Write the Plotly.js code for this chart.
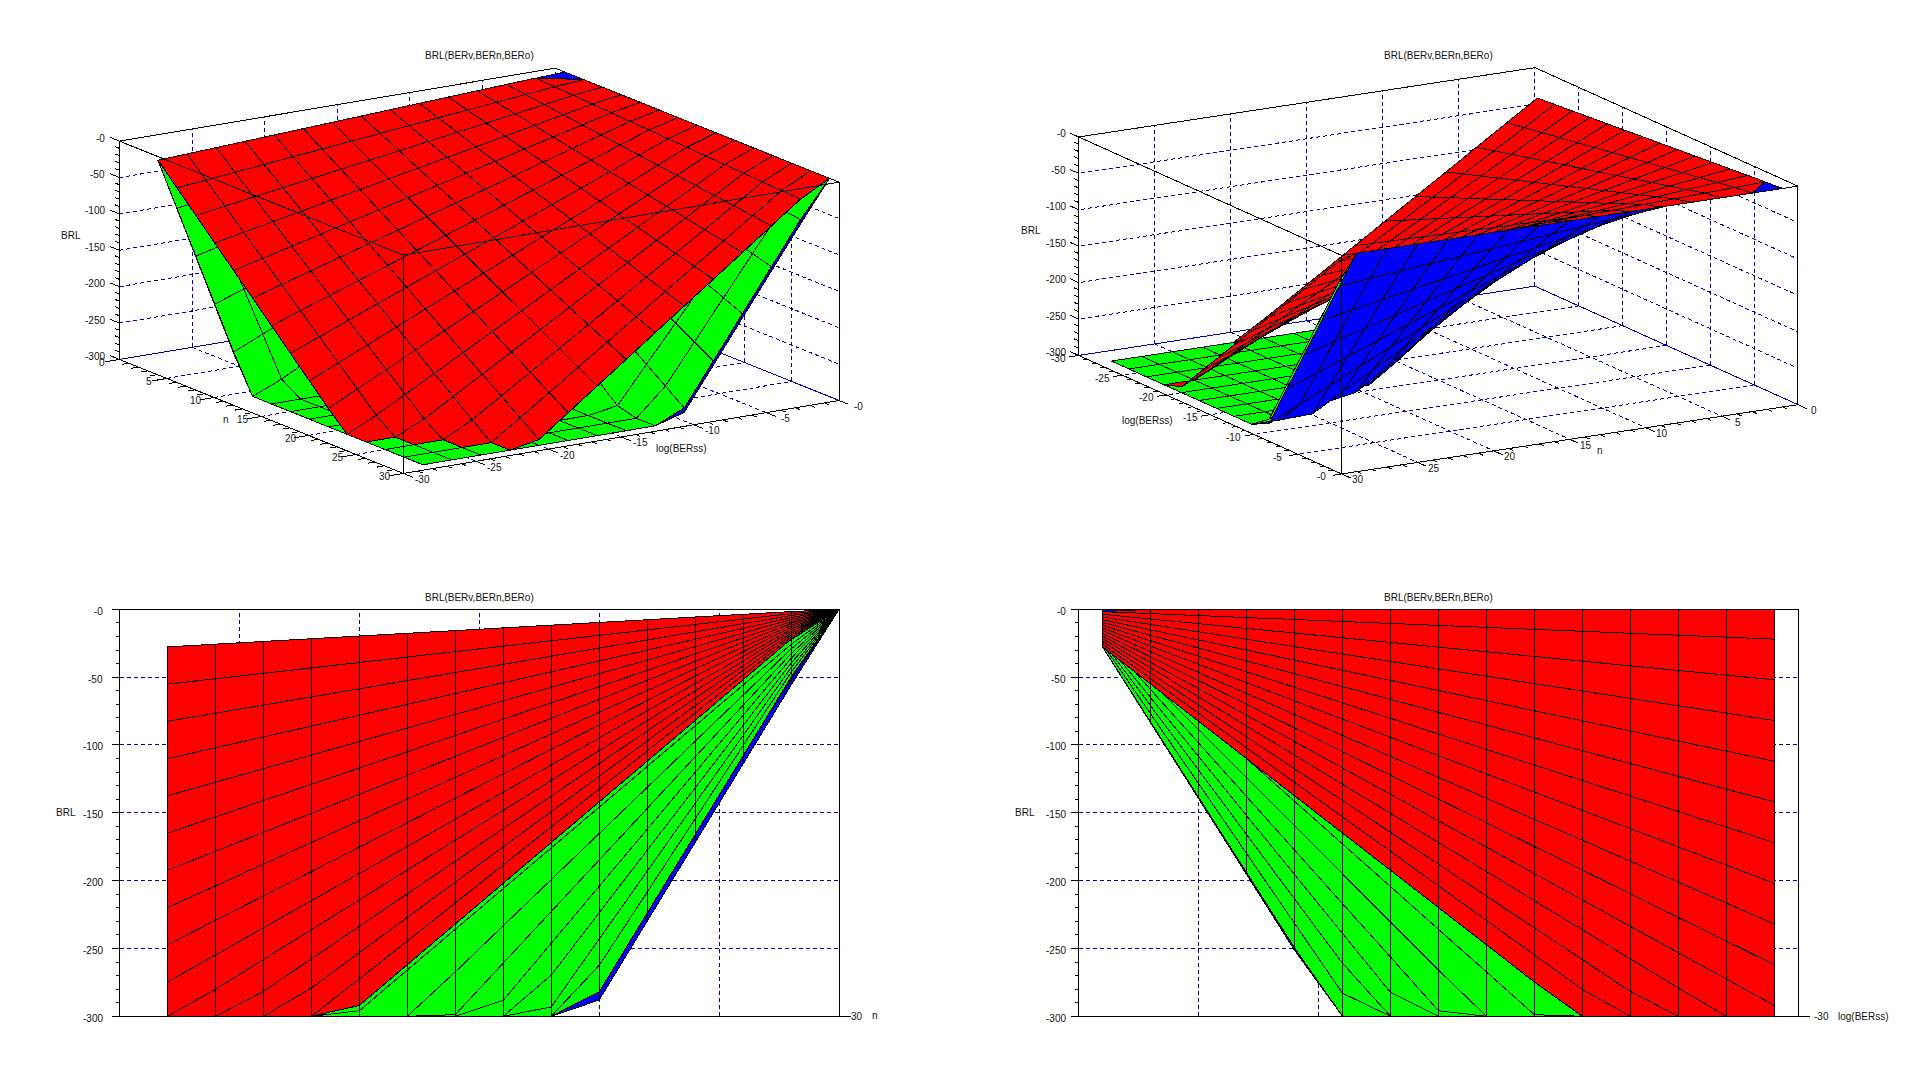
<!DOCTYPE html>
<html><head><meta charset="utf-8">
<script src="https://cdn.plot.ly/plotly-3.0.1.min.js"></script>
<style>html,body{margin:0;padding:0;background:#fff;overflow:hidden}#plot{width:1918px;height:1084px}
.scatterlayer path{shape-rendering:crispEdges}</style>
</head><body><div id="plot"></div>
<script>
const nValues=[1,3,5,7,9,11,13,15,17,19,21,23,25,27,29];
const logValues=[0,-2,-4,-6,-8,-10,-12,-14,-16,-18,-20,-22,-24,-26,-28];
const nTicks=[0,5,10,15,20,25,30];
const logTicks=[0,-5,-10,-15,-20,-25,-30];
const brlTicks=[0,-50,-100,-150,-200,-250,-300];
const brlMinor=[-10,-20,-30,-40,-60,-70,-80,-90,-110,-120,-130,-140,-160,-170,-180,-190,-210,-220,-230,-240,-260,-270,-280,-290];
const chartTitle='BRL(BERv,BERn,BERo)';
const redBRL=[
[null,0,0,0,0,0,0,0,0,0,0,0,0,0,0],
[-1.7,-3.2,-4.6,-6.1,-7.5,-9,-10.4,-11.9,-13.3,-14.8,-16.2,-17.7,-19.1,-20.5,-22],
[-3.7,-7.2,-10.6,-14.1,-17.5,-21,-24.4,-27.9,-31.3,-34.8,-38.2,-41.7,-45.1,-48.5,-52],
[-5.7,-11.2,-16.6,-22.1,-27.5,-33,-38.4,-43.9,-49.3,-54.8,-60.2,-65.7,-71.1,-76.5,-82],
[-7.7,-15.2,-22.6,-30.1,-37.5,-45,-52.4,-59.9,-67.3,-74.8,-82.2,-89.7,-97.1,-104.5,-112],
[-9.7,-19.2,-28.6,-38.1,-47.5,-57,-66.4,-75.9,-85.3,-94.8,-104.2,-113.7,-123.1,-132.5,-142],
[-11.7,-23.2,-34.6,-46.1,-57.5,-69,-80.4,-91.9,-103.3,-114.8,-126.2,-137.7,-149.1,-160.5,-172],
[-13.7,-27.2,-40.6,-54.1,-67.5,-81,-94.4,-107.9,-121.3,-134.8,-148.2,-161.7,-175.1,-188.5,-202],
[-15.7,-31.2,-46.6,-62.1,-77.5,-93,-108.4,-123.9,-139.3,-154.8,-170.2,-185.7,-201.1,-216.5,-232],
[-17.7,-35.2,-52.6,-70.1,-87.5,-105,-122.4,-139.9,-157.3,-174.8,-192.2,-209.7,-227.1,-244.5,-262],
[-19.7,-39.2,-58.6,-78.1,-97.5,-117,-136.4,-155.9,-175.3,-194.8,-214.2,-233.7,-253.1,-272.5,-292],
[-21.7,-43.2,-64.6,-86.1,-107.5,-129,-150.4,-171.9,-193.3,-214.8,-236.2,-257.7,-279.1,-300,-300],
[-23.7,-47.2,-70.6,-94.1,-117.5,-141,-164.4,-187.9,-211.3,-234.8,-258.2,-281.7,-300,-300,-300],
[-25.7,-51.2,-76.6,-102.1,-127.5,-153,-178.4,-203.9,-229.3,-254.8,-280.2,-300,-300,-300,-300],
[-27.7,-55.2,-82.6,-110.1,-137.5,-165,-192.4,-219.9,-247.3,-274.8,-300,-300,-300,-300,-300]];
const greenBRL=[
[null,0,0,0,0,0,0,0,0,0,0,0,0,0,0],
[-1.85,-5.2,-8.6,-12.1,-15.5,-19,-22.4,-25.9,-29.3,-32.8,-36.2,-39.7,-43.1,-46.5,-50],
[-3.85,-11.2,-18.6,-26.1,-33.5,-41,-48.4,-55.9,-63.3,-70.8,-78.2,-85.7,-93.1,-100.5,-108],
[-5.85,-17.2,-28.6,-40.1,-51.5,-63,-74.4,-85.9,-97.3,-108.8,-120.2,-131.7,-143.1,-154.5,-166],
[-7.85,-23.2,-38.6,-54.1,-69.5,-85,-100.4,-115.9,-131.3,-146.8,-162.2,-177.7,-193.1,-208.5,-224],
[-9.85,-29.2,-48.6,-68.1,-87.5,-107,-126.4,-145.9,-165.3,-184.8,-204.2,-223.7,-243.1,-262.5,-282],
[-11.85,-35.2,-58.6,-82.1,-105.5,-129,-152.4,-175.9,-199.3,-222.8,-246.2,-269.7,-293.1,-300,-300],
[-13.85,-41.2,-68.6,-96.1,-123.5,-151,-178.4,-205.9,-233.3,-260.8,-288.2,-300,-300,-300,-300],
[-15.85,-47.2,-78.6,-110.1,-141.5,-173,-204.4,-235.9,-267.3,-298.8,-300,-300,-300,-300,-300],
[-17.85,-53.2,-88.6,-124.1,-159.5,-195,-230.4,-265.9,-300,-300,-300,-300,-300,-300,-300],
[-19.85,-59.2,-98.6,-138.1,-177.5,-217,-256.4,-295.9,-300,-300,-300,-300,-300,-300,-300],
[-21.85,-65.2,-108.6,-152.1,-195.5,-239,-282.4,-300,-300,-300,-300,-300,-300,-300,-300],
[-23.85,-71.2,-118.6,-166.1,-213.5,-261,-300,-300,-300,-300,-300,-300,-300,-300,-300],
[-25.85,-77.2,-128.6,-180.1,-231.5,-283,-300,-300,-300,-300,-300,-300,-300,-300,-300],
[-27.85,-83.2,-138.6,-194.1,-249.5,-300,-300,-300,-300,-300,-300,-300,-300,-300,-300]];
const blueBRL=[
[0,0,0,0,0,0,0,0,0,0,0,0,0,0,0],
[-2,-5.8,-9.65,-13.5,-17.4,-21.2,-25.1,-29,-32.8,-36.7,-40.5,-44.4,-48.25,-52.1,-56],
[-4,-11.8,-19.65,-27.5,-35.4,-43.2,-51.1,-59,-66.8,-74.7,-82.5,-90.4,-98.25,-106.1,-114],
[-6,-17.8,-29.65,-41.5,-53.4,-65.2,-77.1,-89,-100.8,-112.7,-124.5,-136.4,-148.25,-160.1,-172],
[-8,-23.8,-39.65,-55.5,-71.4,-87.2,-103.1,-119,-134.8,-150.7,-166.5,-182.4,-198.25,-214.1,-230],
[-10,-29.8,-49.65,-69.5,-89.4,-109.2,-129.1,-149,-168.8,-188.7,-208.5,-228.4,-248.25,-268.1,-288],
[-12,-35.8,-59.65,-83.5,-107.4,-131.2,-155.1,-179,-202.8,-226.7,-250.5,-274.4,-298.25,-300,-300],
[-14,-41.8,-69.65,-97.5,-125.4,-153.2,-181.1,-209,-236.8,-264.7,-292.5,-300,-300,-300,-300],
[-16,-47.8,-79.65,-111.5,-143.4,-175.2,-207.1,-239,-270.8,-300,-300,-300,-300,-300,-300],
[-18,-53.8,-89.65,-125.5,-161.4,-197.2,-233.1,-269,-300,-300,-300,-300,-300,-300,-300],
[-20,-59.8,-99.65,-139.5,-179.4,-219.2,-259.1,-299,-300,-300,-300,-300,-300,-300,-300],
[-22,-65.8,-109.65,-153.5,-197.4,-241.2,-285.1,-300,-300,-300,-300,-300,-300,-300,-300],
[-24,-71.8,-119.65,-167.5,-215.4,-263.2,-300,-300,-300,-300,-300,-300,-300,-300,-300],
[-26,-77.8,-129.65,-181.5,-233.4,-285.2,-300,-300,-300,-300,-300,-300,-300,-300,-300],
[-28,-83.8,-139.65,-195.5,-251.4,-300,-300,-300,-300,-300,-300,-300,-300,-300,-300]];

const W=1918,H=1084;
const FONT={family:'"Liberation Sans",Arial,sans-serif',size:10,color:'#111'};
const GRID='#0000a8';
const SHEETS=[{c:'#0000ff',z:blueBRL,floor:false},{c:'#00ff00',z:greenBRL,floor:true},{c:'#ff0000',z:redBRL,floor:false,lift:true}];
const panels=[
 {k:'',dom:[0,959,0,542],cx:479.25,cy:270.8,r1:[283.8,435.7,0],r2:[-114,73,218.3],eye:[.8113,-.524,.2595],aspect:[1,.992,.432],order:'sheets',
  nf:30,lf:-30,nb:0,lb:0,wallN:0,wallL:0,floor:true,
  zAt:[0,-30],zDir:[-1,0],nAt:-30,nDir:-1,lAt:30,lDir:1,
  zS:[-13,-3],nS:[-18,3],lS:[19,6],
  extra:[{t:'BRL',p:[0,-30,-150],s:[-48.5,-15]},{t:'n',p:[15,-30,-300],s:[-35,3]},{t:'log(BERss)',p:[30,-15,-300],s:[60,12]}]},
 {k:'2',dom:[959,1918,0,542],cx:1438.3,cy:270.8,r1:[-456.3,263,0],r2:[-69.3,-118.5,218.5],eye:[.4846,.8345,.2615],aspect:[1,.993,.429],order:'prisms',skipLow:true,
  nf:30,lf:0,nb:0,lb:-30,wallN:0,wallL:-30,floor:true,
  zAt:[30,-30],zDir:[0,-1],nAt:0,nDir:1,lAt:30,lDir:.6,
  zS:[-11,-3],nS:[16,6],lS:[-20,3],
  extra:[{t:'BRL',p:[30,-30,-150],s:[-48,-16]},{t:'log(BERss)',p:[30,-15,-300],s:[-63,6]},{t:'n',p:[15,0,-300],s:[30,11]}]},
 {k:'3',dom:[0,959,542,1084],cx:479.25,cy:812.8,r1:[0,719.5,0],r2:[0,0,407],order:'sheets',
  nf:30,lf:-30,nb:0,lb:0,wallN:0,wallL:null,floor:false,
  zAt:[30,-30],zDir:[0,-.33],zS:[-15,2],endTick:[0,.5],
  extra:[{t:'BRL',p:[30,-30,-150],s:[-54,0]},{t:'30',p:[30,0,-300],s:[18,0]},{t:'n',p:[30,0,-300],s:[36,-1]}]},
 {k:'4',dom:[959,1918,542,1084],cx:1438.5,cy:812.8,r1:[719.5,0,0],r2:[0,0,407],order:'sheets',
  nf:0,lf:-30,nb:30,lb:0,wallN:null,wallL:0,floor:false,
  zAt:[0,-30],zDir:[-.33,0],zS:[-11,2],endTick:[.5,0],
  extra:[{t:'BRL',p:[0,-30,-150],s:[-54,0]},{t:'-30',p:[30,-30,-300],s:[23,0]},{t:'log(BERss)',p:[30,-30,-300],s:[65,0]}]}
];

const traces=[];
const layout={width:W,height:H,margin:{l:0,r:0,t:0,b:0},paper_bgcolor:'#fff',plot_bgcolor:'#fff',showlegend:false,hovermode:false,dragmode:false,annotations:[]};

panels.forEach(p=>{
 const xa='x'+p.k,ya='y'+p.k;
 const proj=(n,l,z)=>{
  const a=(n-15)/30,b=(l+15)/30,c=(z+150)/300;
  return [p.cx+a*p.r1[0]+b*p.r1[1]+c*p.r1[2], p.cy-(a*p.r2[0]+b*p.r2[1]+c*p.r2[2])];
 };
 const lineTrace=(segs,color,dash)=>{
  const x=[],y=[];
  segs.forEach(s=>{const a=proj(...s[0]),b=proj(...s[1]);x.push(a[0],b[0],null);y.push(a[1],b[1],null);});
  traces.push({type:'scatter',mode:'lines',x,y,xaxis:xa,yaxis:ya,hoverinfo:'skip',line:{color,width:1,dash:dash||'solid',simplify:false},connectgaps:false});
 };
 const T=0,B=-300;
 const grid=[];
 if(p.wallN!==null){
  brlTicks.forEach(z=>grid.push([[p.wallN,-30,z],[p.wallN,0,z]]));
  logTicks.forEach(l=>grid.push([[p.wallN,l,B],[p.wallN,l,T]]));
 }
 if(p.wallL!==null){
  brlTicks.forEach(z=>grid.push([[0,p.wallL,z],[30,p.wallL,z]]));
  nTicks.forEach(n=>grid.push([[n,p.wallL,B],[n,p.wallL,T]]));
 }
 if(p.floor){
  nTicks.forEach(n=>grid.push([[n,-30,B],[n,0,B]]));
  logTicks.forEach(l=>grid.push([[0,l,B],[30,l,B]]));
 }
 lineTrace(grid,GRID,'4px,3px');
 lineTrace([[[p.nb,p.lf,B],[p.nb,p.lb,B]],[[p.nb,p.lb,B],[p.nf,p.lb,B]]],GRID);
 lineTrace([[[p.nb,p.lf,T],[p.nb,p.lb,T]],[[p.nb,p.lb,T],[p.nf,p.lb,T]]],'#000');

 const quad=(sh,i,j)=>{
  const z=sh.z;
  return [[nValues[i],logValues[j],z[j][i]],[nValues[i+1],logValues[j],z[j][i+1]],[nValues[i+1],logValues[j+1],z[j+1][i+1]],[nValues[i],logValues[j+1],z[j+1][i]]];
 };
 const hidden=(sh,q)=>{
  const low=q.filter(v=>v[2]!==null&&v[2]<=-300).length;
  if(low===4&&!sh.floor) return true;
  return !!(p.skipLow&&sh.lift&&low>=3);
 };
 const drawRun=(polys,color)=>{
  if(!polys.length) return;
  const x=[],y=[];
  polys.forEach(q=>{const pts=q.filter(v=>v[2]!==null).map(v=>proj(...v));pts.concat([pts[0]]).forEach(a=>{x.push(a[0]);y.push(a[1]);});x.push(null);y.push(null);});
  traces.push({type:'scatter',mode:'lines',fill:'toself',fillcolor:color,x,y,xaxis:xa,yaxis:ya,hoverinfo:'skip',line:{color:'#000',width:1,simplify:false},connectgaps:false});
 };
 if(p.order==='sheets'){
  SHEETS.forEach(sh=>{
   const polys=[];
   for(let j=0;j<logValues.length-1;j++)for(let i=0;i<nValues.length-1;i++){
    const q=quad(sh,i,j);
    if(hidden(sh,q))continue;
    polys.push(q);
   }
   drawRun(polys,sh.c);
  });
 } else {
  const d=p.eye,asp=p.aspect;
  const facing=q=>{
   const zv=q.map(v=>v[2]===null?0:v[2]);
   const dzdn=((zv[1]-zv[0])+(zv[2]-zv[3]))/2/300*asp[2]/(2/30*asp[0]);
   const dzdl=((zv[3]-zv[0])+(zv[2]-zv[1]))/2/300*asp[2]/(-2/30*asp[1]);
   return d[2]-dzdn*d[0]-dzdl*d[1];
  };
  let run=[],runColor=null;
  const jOrder=logValues.map((_,j)=>j).slice(0,-1).reverse();
  for(const j of jOrder){
   for(let i=0;i<nValues.length-1;i++){
    const up=[],down=[];
    SHEETS.forEach(sh=>{
     const q=quad(sh,i,j);
     if(hidden(sh,q))return;
     (facing(q)>0?up:down).push({q,c:sh.c});
    });
    down.reverse();
    down.concat(up).forEach(e=>{
     if(e.c!==runColor){drawRun(run,runColor);run=[];runColor=e.c;}
     run.push(e.q);
    });
   }
  }
  drawRun(run,runColor);
 }
 const k=[];
 [[[p.nf,p.lf],[p.nf,p.lb]],[[p.nf,p.lf],[p.nb,p.lf]]].forEach(e=>k.push([[e[0][0],e[0][1],T],[e[1][0],e[1][1],T]]));
 [[p.nb,p.lf],[p.nf,p.lf],[p.nf,p.lb]].forEach(q=>k.push([[q[0],q[1],B],[q[0],q[1],T]]));
 k.push([[p.nb,p.lf,B],[p.nf,p.lf,B]]);k.push([[p.nf,p.lf,B],[p.nf,p.lb,B]]);
 brlTicks.forEach(z=>k.push([[p.zAt[0],p.zAt[1],z],[p.zAt[0]+p.zDir[0],p.zAt[1]+p.zDir[1],z]]));
 brlMinor.forEach(z=>k.push([[p.zAt[0],p.zAt[1],z],[p.zAt[0]+p.zDir[0]/2,p.zAt[1]+p.zDir[1]/2,z]]));
 if(p.endTick){
  const e=(p.k==='3')?[30,0]:[30,-30];
  k.push([[e[0],e[1],B],[e[0]+p.endTick[0],e[1]+p.endTick[1],B]]);
 }
 if(p.nS){
  for(let n=0;n<=30;n++){const len=n%5===0?1:.5;k.push([[n,p.nAt,B],[n,p.nAt+p.nDir*len,B]]);}
  for(let l=0;l>=-30;l--){const len=l%5===0?1:.5;k.push([[p.lAt,l,B],[p.lAt+p.lDir*len,l,B]]);}
 }
 lineTrace(k,'#000');
 const mk=(pt,text,s,anchor)=>{
  const a=proj(...pt);
  layout.annotations.push({xref:xa,yref:ya,x:a[0]+s[0],y:a[1]+s[1],text,showarrow:false,xanchor:anchor||'center',yanchor:'middle',font:FONT});
 };
 brlTicks.forEach(z=>mk([p.zAt[0],p.zAt[1],z],'-'+Math.abs(z),p.zS,'right'));
 if(p.nS){
  nTicks.forEach(n=>mk([n,p.nAt,B],String(n),p.nS));
  logTicks.forEach(l=>mk([p.lAt,l,B],'-'+Math.abs(l),p.lS));
 }
 p.extra.forEach(e=>mk(e.p,e.t,e.s));
 const titleY=p.cy<500?55.5:597.5;
 layout.annotations.push({xref:xa,yref:ya,x:p.cx,y:titleY,text:chartTitle,showarrow:false,xanchor:'center',yanchor:'middle',font:FONT});
 const d=p.dom;
 layout['xaxis'+p.k]={domain:[d[0]/W,d[1]/W],range:[d[0],d[1]],visible:false,fixedrange:true,anchor:ya};
 layout['yaxis'+p.k]={domain:[1-d[3]/H,1-d[2]/H],range:[d[3],d[2]],visible:false,fixedrange:true,anchor:xa};
});
Plotly.newPlot('plot',traces,layout,{displayModeBar:false,staticPlot:true});
</script></body></html>
